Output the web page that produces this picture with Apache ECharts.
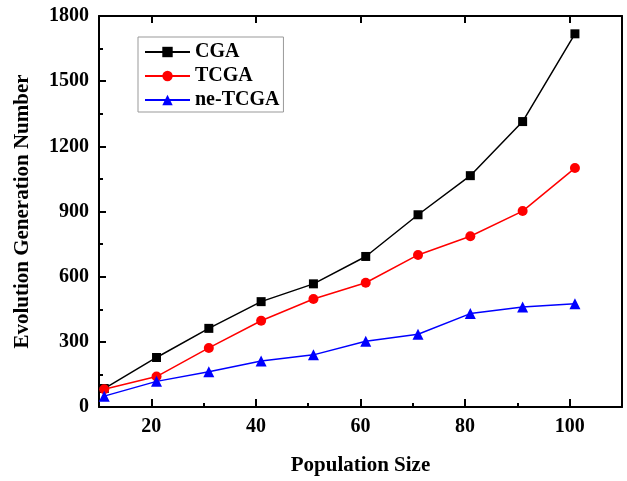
<!DOCTYPE html>
<html>
<head>
<meta charset="utf-8">
<script src="https://cdn.jsdelivr.net/npm/echarts@6/dist/echarts.min.js"></script>
<style>
  html, body { margin: 0; padding: 0; background: #fff; }
  #chart { width: 627px; height: 481px; }
</style>
</head>
<body>
<div id="chart"></div>
<script>
// Population sizes tested and the generations each algorithm needed
const populationSizes = [11, 21, 31, 41, 51, 61, 71, 81, 91, 101];
const cgaValues = [85, 228, 362, 485, 567, 693, 885, 1065, 1314, 1718];
const tcgaValues = [82, 140, 272, 397, 497, 572, 700, 786, 902, 1100];
const neTcgaValues = [50, 118, 162, 212, 240, 303, 335, 430, 460, 475];

const seriesNames = ['CGA', 'TCGA', 'ne-TCGA'];
const majorXTicks = [20, 40, 60, 80, 100];
const minorXTicks = [30, 50, 70, 90];

const FONT = '"Liberation Serif", "Times New Roman", serif';
const pair = vals => populationSizes.map((x, i) => [x, vals[i]]);

const labelStyle = { fontFamily: FONT, fontWeight: 'bold', fontSize: 20, color: '#000' };
const titleStyle = { fontFamily: FONT, fontWeight: 'bold', fontSize: 21, color: '#000' };
const axisLineStyle = { color: '#000', width: 2 };
const tickStyle = { color: '#000', width: 2 };

const chart = echarts.init(document.getElementById('chart'), null, { renderer: 'canvas' });
chart.setOption({
  animation: false,
  backgroundColor: '#fff',
  grid: { left: 99, top: 16, right: 5, bottom: 74, containLabel: false, outerBoundsMode: 'none' },
  legend: {
    data: seriesNames,
    orient: 'vertical',
    left: 138,
    top: 37,
    padding: [5, 4, 2, 6],
    itemGap: 4,
    itemWidth: 45,
    itemHeight: 13,
    borderColor: '#999',
    borderWidth: 1,
    textStyle: { fontFamily: FONT, fontWeight: 'bold', fontSize: 20, lineHeight: 20, color: '#000' }
  },
  xAxis: [
    {
      type: 'value', min: 10, max: 110, position: 'bottom',
      name: 'Population Size', nameLocation: 'middle', nameGap: 48,
      nameTextStyle: titleStyle,
      axisLine: { lineStyle: axisLineStyle },
      axisTick: { inside: true, length: 8, customValues: majorXTicks, lineStyle: tickStyle },
      axisLabel: { customValues: majorXTicks, margin: 10, formatter: v => String(v), ...labelStyle },
      splitLine: { show: false }
    },
    {
      type: 'value', min: 10, max: 110, position: 'bottom',
      axisLine: { show: false },
      axisTick: { inside: true, length: 4, customValues: minorXTicks, lineStyle: tickStyle },
      axisLabel: { show: false },
      splitLine: { show: false }
    },
    {
      type: 'value', min: 10, max: 110, position: 'top',
      axisLine: { lineStyle: axisLineStyle },
      axisTick: { inside: true, length: 7, customValues: majorXTicks, lineStyle: tickStyle },
      axisLabel: { show: false },
      splitLine: { show: false }
    }
  ],
  yAxis: [
    {
      type: 'value', min: 0, max: 1800, interval: 300, position: 'left',
      name: 'Evolution Generation Number', nameLocation: 'middle', nameGap: 66,
      nameTextStyle: titleStyle,
      axisLine: { show: true, lineStyle: axisLineStyle },
      axisTick: { inside: true, length: 7, lineStyle: tickStyle },
      minorTick: { show: true, splitNumber: 2, length: 4, lineStyle: tickStyle },
      axisLabel: { margin: 10, formatter: v => String(v), ...labelStyle },
      splitLine: { show: false }
    },
    {
      type: 'value', min: 0, max: 1800, interval: 300, position: 'right',
      axisLine: { show: true, lineStyle: axisLineStyle },
      axisTick: { show: false },
      axisLabel: { show: false },
      splitLine: { show: false }
    }
  ],
  series: [
    {
      name: 'CGA', type: 'line', data: pair(cgaValues),
      symbol: 'rect', symbolSize: 9,
      lineStyle: { color: '#000', width: 1.5 },
      itemStyle: { color: '#000' }
    },
    {
      name: 'TCGA', type: 'line', data: pair(tcgaValues),
      symbol: 'circle', symbolSize: 10,
      lineStyle: { color: '#ff0000', width: 1.5 },
      itemStyle: { color: '#ff0000' }
    },
    {
      name: 'ne-TCGA', type: 'line', data: pair(neTcgaValues),
      symbol: 'triangle', symbolSize: 11,
      lineStyle: { color: '#0000ff', width: 1.5 },
      itemStyle: { color: '#0000ff' }
    }
  ]
});
</script>
</body>
</html>
